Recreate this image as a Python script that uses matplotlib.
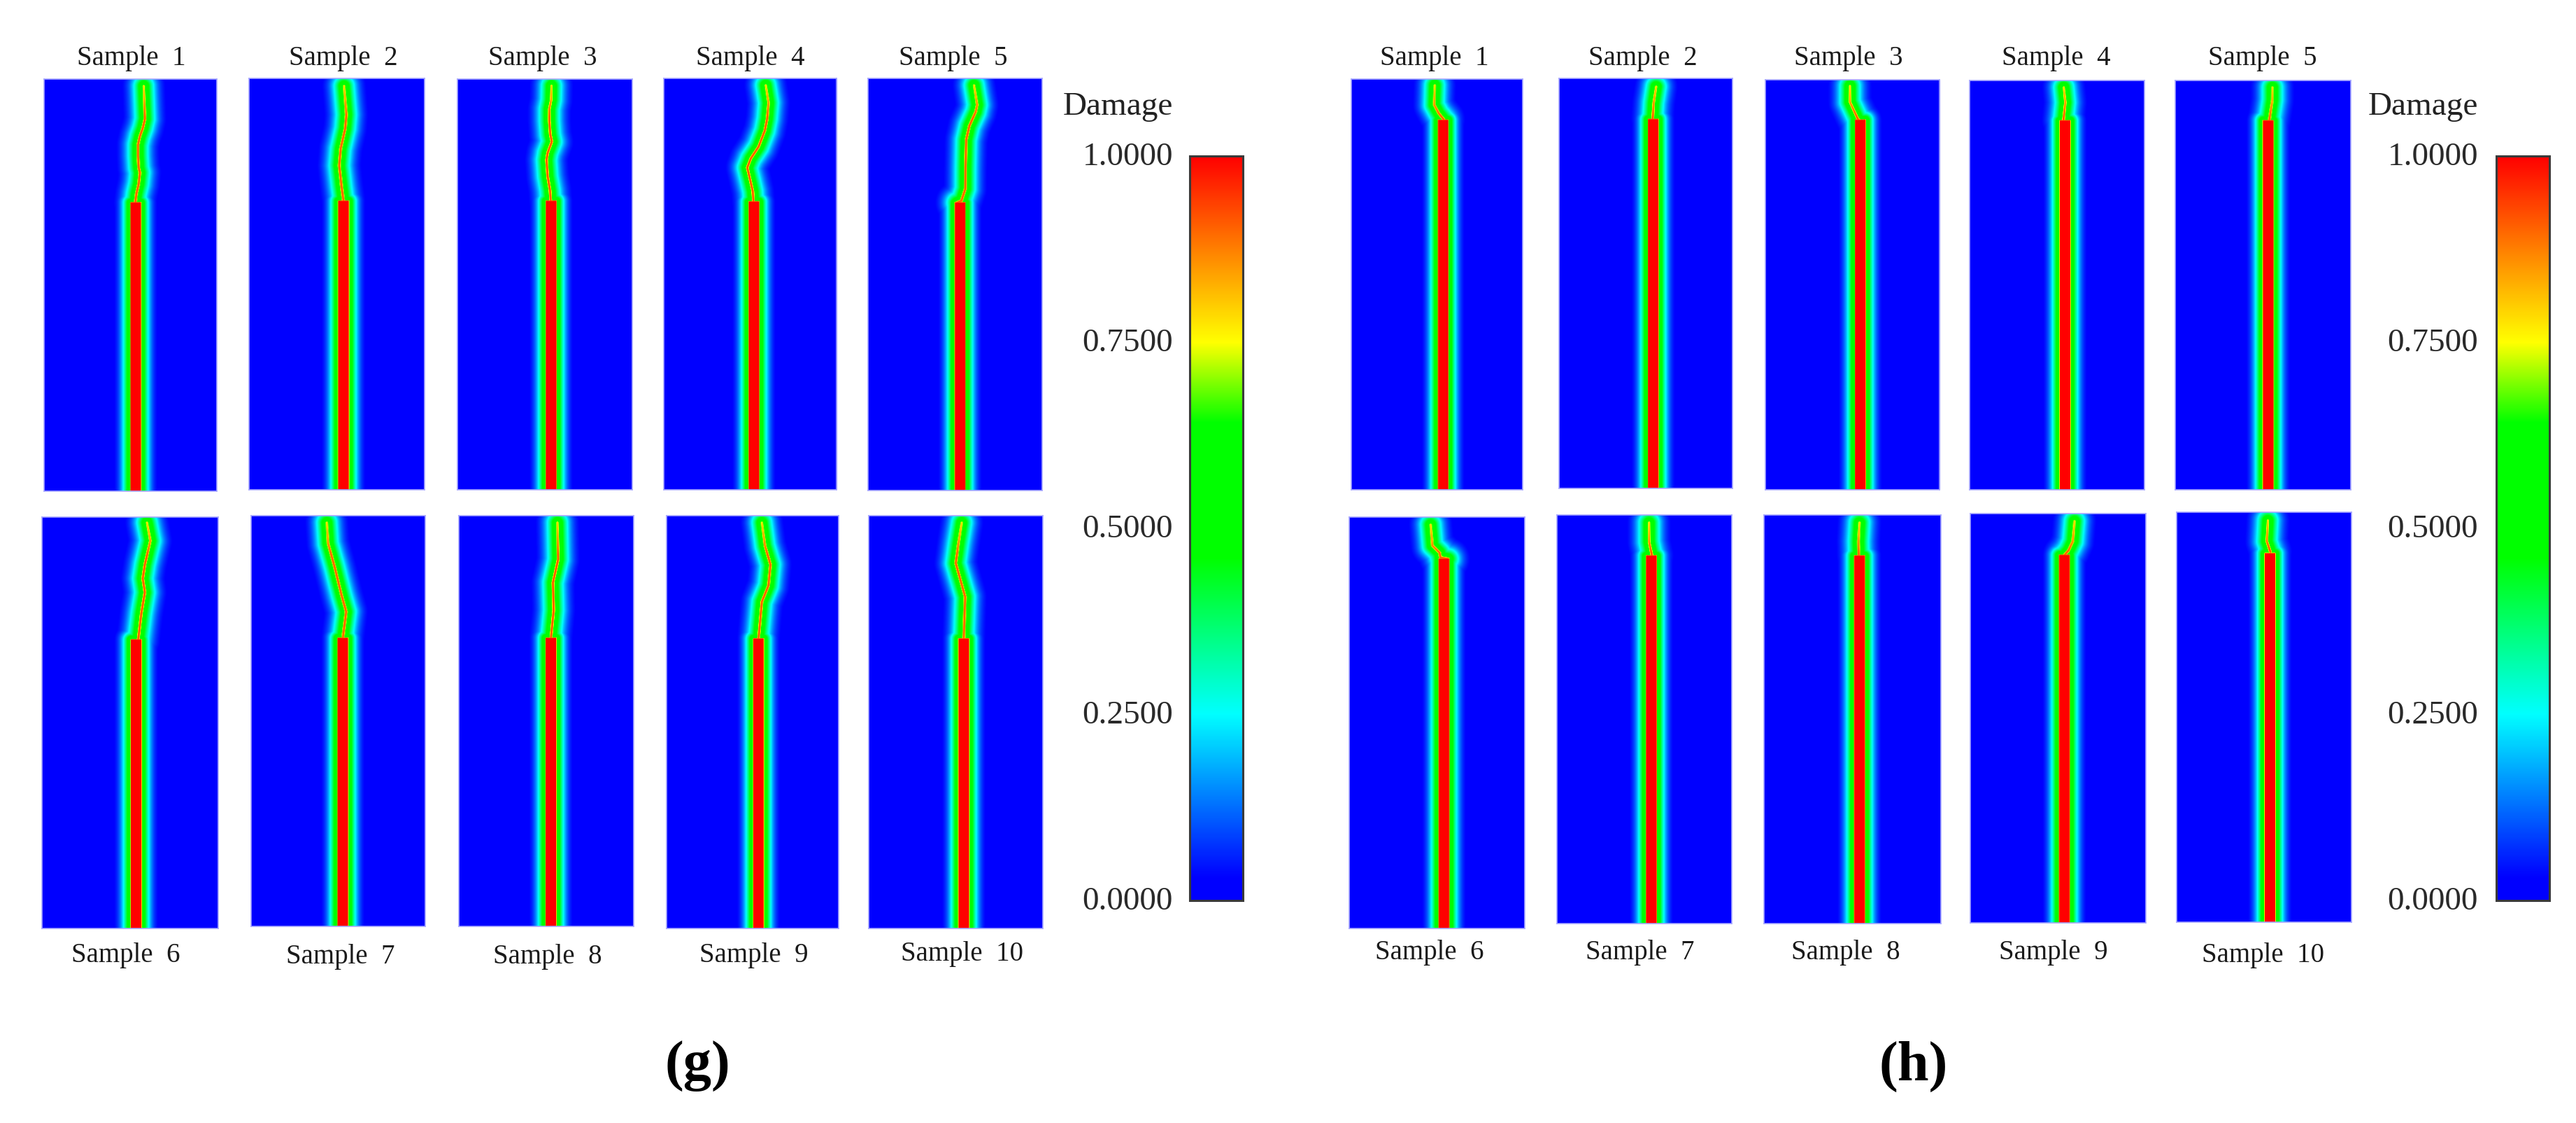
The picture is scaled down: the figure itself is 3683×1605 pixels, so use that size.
import numpy as np
import matplotlib
matplotlib.use("Agg")
import matplotlib.pyplot as plt
from matplotlib.cm import ScalarMappable
from matplotlib.colors import LinearSegmentedColormap, Normalize
from matplotlib.transforms import ScaledTranslation

plt.rcParams['font.family'] = ['Liberation Serif', 'DejaVu Serif']

W, H = 3683, 1605
DOMAIN_X, DOMAIN_Y = 250, 590

sample_names = ['Sample  %d' % i for i in range(1, 11)]
damage_ticks = [0.0, 0.25, 0.5, 0.75, 1.0]

# crack paths, tip first, in the 250 x 590 specimen (y measured from the top edge)
g_crack_x = [
    [144.3, 145.3, 146, 143, 138.7, 136, 136, 137, 138.7, 137, 133.7, 132],
    [135.4, 138.7, 137, 130.5, 128.5, 131.7, 134.6],
    [134.5, 134, 131.4, 131.4, 132.8, 135, 129, 127.4, 129, 132.4, 133.4],
    [147, 151, 149, 145.6, 136.7, 125.4, 120.4, 124.4, 128.3, 129.3],
    [152.3, 156.8, 154.6, 145.6, 141, 140, 139.8, 134.2, 127.7],
    [149, 153.8, 146, 143, 146, 141, 136.5],
    [108.7, 110.6, 120, 129.8, 136.5, 131.7],
    [141, 142, 134.6, 135.6, 131.7],
    [138.5, 143, 151, 148, 138.5, 133.6],
    [133.6, 128.8, 125, 138.5, 136.5],
]
g_crack_y = [
    [10, 37, 57, 70, 82, 94, 110, 127, 134, 150, 164, 177],
    [11, 52, 72, 101, 125, 154, 176],
    [10.7, 31, 44, 61, 80.7, 90.7, 107, 117, 140.7, 160.7, 175.7],
    [10, 35, 58, 75, 98, 115, 128, 145, 162, 177],
    [10, 38, 48, 68, 88, 128, 158, 175, 178],
    [8, 34, 68, 88, 108, 138, 176],
    [10, 40, 74, 114, 138, 176],
    [10, 63, 96, 136, 176],
    [10, 43, 70, 100, 123, 176],
    [10, 40, 68, 116, 176],
]
g_notch_x = [132.7, 134.6, 134, 130, 132.2, 133.6, 131.7, 131.7, 133.6, 136.5]
g_notch_y = [177, 176, 176, 177, 178, 176, 176, 176, 176, 176]

h_crack_x = [
    [121.8, 121, 127.5, 135],
    [140, 136.4, 135],
    [121, 121, 132, 136],
    [134.7, 136.9, 134.3],
    [138.4, 138.4, 134],
    [116, 118.6, 128.7, 130, 141],
    [131.8, 131.8, 136],
    [135, 133.5, 134],
    [148.4, 146, 140, 134],
    [130.5, 129, 134],
]
h_crack_y = [
    [10, 38, 50, 59],
    [12, 35, 58],
    [9, 32, 56, 60],
    [10, 31.7, 56.7],
    [10, 28, 57],
    [11, 41, 51, 58, 60],
    [11, 39, 59],
    [11, 38, 59],
    [11, 40, 53, 60],
    [12, 42, 57],
]
h_notch_x = [134, 135.8, 135.8, 136.5, 132.4, 135, 135, 135, 134, 133.5]
h_notch_y = [60, 59, 58, 58, 58, 60, 59, 59, 60, 59.5]

# colour scale of the damage bar
scale_pos = [0.0, 0.03, 0.25, 0.46, 0.642, 0.75, 1.0]
scale_col = ['#0000ff', '#0000ff', '#00ffff', '#00ff00', '#00ff00', '#ffff00', '#ff0000']
damage_cmap = LinearSegmentedColormap.from_list('damage', list(zip(scale_pos, scale_col)), N=512)

# panel boxes in image pixels: left, right, top, bottom
g_boxes = [(63, 310, 113, 702), (356, 607, 112, 700), (654, 904, 113, 700), (949, 1196, 112, 700),
           (1241, 1490, 112, 701), (60, 312, 739, 1327), (359, 608, 737, 1324), (656, 906, 737, 1324),
           (953, 1199, 737, 1327), (1242, 1491, 737, 1327)]
h_boxes = [(1932, 2177, 113, 700), (2229, 2477, 112, 698), (2524, 2773, 114, 700), (2816, 3066, 115, 700),
           (3110, 3361, 115, 700), (1929, 2180, 739, 1327), (2226, 2476, 736, 1320), (2522, 2775, 736, 1320),
           (2817, 3068, 734, 1319), (3112, 3362, 732, 1318)]
g_label_pos = [(188, 84), (491, 84), (776, 84), (1073, 84), (1363, 84),
               (180, 1366), (487, 1367), (783, 1367), (1078, 1366), (1375, 1364)]
h_label_pos = [(2051, 84), (2349, 84), (2643, 84), (2940, 84), (3235, 84),
               (2044, 1362), (2345, 1362), (2639, 1362), (2936, 1362), (3235, 1365)]


def rect(left, right, top, bottom):
    return [left / W, 1 - bottom / H, (right - left) / W, (bottom - top) / H]


def damage_field(cx, cy, nx, ny):
    """damage from the distance to the crack path and to the notch below it"""
    xx, yy = np.meshgrid(np.arange(0.5, DOMAIN_X, 1.0), np.arange(0.5, DOMAIN_Y, 1.0))
    dist = np.full(xx.shape, 1e9)
    peak = np.zeros(xx.shape)
    n = len(cx) - 1
    for i in range(n):
        ax_, ay_, bx_, by_ = cx[i], cy[i], cx[i + 1], cy[i + 1]
        dx, dy = bx_ - ax_, by_ - ay_
        t = np.clip(((xx - ax_) * dx + (yy - ay_) * dy) / (dx * dx + dy * dy), 0, 1)
        d = np.hypot(xx - ax_ - t * dx, yy - ay_ - t * dy)
        frac = np.clip((cy[i] + t * dy) / 55.0, 0, 1)
        closer = d < dist
        dist[closer] = d[closer]
        peak[closer] = (0.76 + 0.16 * frac)[closer]
    thin = np.maximum(peak * np.exp(-(dist / 3.6) ** 2.5), 0.64 * np.exp(-(dist / 15.0) ** 1.5))

    half = 7.0
    ddx = np.maximum(np.abs(xx - nx) - half, 0)
    ddy = np.maximum(ny - yy, 0)
    dn = np.hypot(ddx, ddy)
    notch = np.maximum(np.exp(-(dn / 2.2) ** 1.5), 0.64 * np.exp(-(dn / 11.5) ** 1.5))
    return np.maximum(thin, notch)


fig = plt.figure(figsize=(W / 100, H / 100), dpi=100, facecolor='white')
norm = Normalize(0, 1)

groups = [
    (g_boxes, g_crack_x, g_crack_y, g_notch_x, g_notch_y, g_label_pos),
    (h_boxes, h_crack_x, h_crack_y, h_notch_x, h_notch_y, h_label_pos),
]
for boxes, crack_x, crack_y, notch_x, notch_y, label_pos in groups:
    for k, box in enumerate(boxes):
        ax = fig.add_axes(rect(*box))
        field = damage_field(crack_x[k], crack_y[k], notch_x[k], notch_y[k])
        ax.imshow(field, cmap=damage_cmap, norm=norm, extent=(0, DOMAIN_X, DOMAIN_Y, 0),
                  aspect='auto', interpolation='bilinear')
        ax.set_xticks([])
        ax.set_yticks([])
        for s in ax.spines.values():
            s.set_color('#a8a8ff')
            s.set_linewidth(1.2)
        lx, ly = label_pos[k]
        fig.text(lx / W, 1 - ly / H, sample_names[k], fontsize=28, color='#1a1a1a',
                 ha='center', va='center')

# colour bars
for left, right, top, bottom, name_x in [(1701, 1777, 223, 1287, 1677), (3569, 3645, 223, 1287, 3543)]:
    cax = fig.add_axes(rect(left, right, top, bottom))
    cb = fig.colorbar(ScalarMappable(norm=norm, cmap=damage_cmap), cax=cax, ticks=damage_ticks, format='%.4f')
    cax.yaxis.set_ticks_position('left')
    cax.tick_params(length=0, labelsize=34, labelcolor='#2a2a2a', pad=(left - name_x) * 0.72)
    shift = ScaledTranslation(0, 3 / 100, fig.dpi_scale_trans)
    for lab in cax.get_yticklabels():
        lab.set_transform(lab.get_transform() + shift)
    cb.outline.set_edgecolor('#3a3a3a')
    cb.outline.set_linewidth(2.2)
    fig.text(name_x / W, 1 - 153 / H, 'Damage', fontsize=34, color='#222222', ha='right', va='center')

fig.text(997 / W, 1 - 1524 / H, '(g)', fontsize=58, fontweight='bold', color='black', ha='center', va='center')
fig.text(2736 / W, 1 - 1524 / H, '(h)', fontsize=58, fontweight='bold', color='black', ha='center', va='center')

fig.savefig('out.png', dpi=100)
